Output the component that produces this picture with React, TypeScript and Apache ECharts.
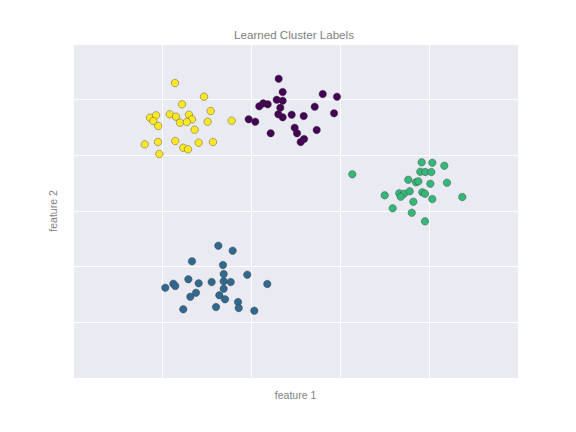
import React, { useEffect, useRef } from "react";
import * as echarts from "echarts";

const xTicks = [0, 1, 2, 3, 4, 5];
const yTicks = [0, 1, 2, 3, 4, 5, 6];

const cluster0: [number, number][] = [
  [2.311, 5.376], [2.356, 5.137], [2.806, 5.101], [2.966, 5.053], [2.289, 4.999],
  [2.356, 4.981], [2.138, 4.934], [2.188, 4.917], [2.093, 4.881], [2.329, 4.855],
  [2.716, 4.873], [2.307, 4.737], [2.356, 4.683], [2.457, 4.73], [2.592, 4.706],
  [2.933, 4.755], [1.974, 4.647], [2.048, 4.604], [2.491, 4.496], [2.517, 4.396],
  [2.738, 4.455], [2.221, 4.396], [2.596, 4.293], [2.558, 4.239],
];

const cluster1: [number, number][] = [
  [1.633, 2.377], [1.794, 2.287], [1.337, 2.096], [1.685, 2.03], [1.693, 1.868],
  [1.958, 1.856], [1.037, 1.622], [1.127, 1.694], [1.149, 1.653], [1.296, 1.773],
  [1.412, 1.701], [1.558, 1.724], [1.693, 1.737], [1.772, 1.724], [2.183, 1.689],
  [1.693, 1.604], [1.382, 1.532], [1.318, 1.46], [1.644, 1.486], [1.708, 1.414],
  [1.854, 1.365], [1.862, 1.257], [2.037, 1.209], [1.239, 1.234], [1.607, 1.275],
];

const cluster2: [number, number][] = [
  [3.918, 3.875], [4.037, 3.867], [4.172, 3.814], [3.138, 3.659], [3.902, 3.706],
  [3.958, 3.7], [4.026, 3.7], [3.767, 3.562], [3.854, 3.515], [3.88, 3.533],
  [4.015, 3.49], [4.202, 3.508], [3.502, 3.282], [3.666, 3.318], [3.719, 3.311],
  [3.682, 3.257], [3.783, 3.354], [3.925, 3.336], [3.955, 3.311], [4.374, 3.251],
  [4.037, 3.215], [3.824, 3.167], [3.592, 3.048], [3.806, 2.969], [3.955, 2.815],
];

const cluster3: [number, number][] = [
  [1.146, 5.299], [1.472, 5.053], [1.225, 4.917], [1.547, 4.796], [0.865, 4.676],
  [0.933, 4.719], [0.902, 4.616], [0.958, 4.527], [1.087, 4.737], [1.157, 4.694],
  [1.303, 4.73], [1.337, 4.647], [1.202, 4.586], [1.278, 4.599], [1.513, 4.604],
  [1.783, 4.622], [1.367, 4.46], [0.806, 4.198], [0.955, 4.239], [1.149, 4.257],
  [1.239, 4.137], [1.292, 4.108], [1.412, 4.227], [1.573, 4.239], [0.97, 4.024],
];

const clusters = [cluster0, cluster1, cluster2, cluster3];
const colors = ["#440154", "#31688e", "#35b779", "#fde725"];

export default function App() {
  const ref = useRef<HTMLDivElement>(null);
  useEffect(() => {
    document.body.style.margin = "0";
    if (!ref.current) return;
    const chart = echarts.init(ref.current, undefined, { renderer: "svg" });
    const font = "'Liberation Sans', Arial, sans-serif";
    const textColor = "#808080";
    chart.setOption({
      animation: false,
      backgroundColor: "#ffffff",
      grid: { left: 73, right: 58, top: 44, bottom: 54, show: true, backgroundColor: "#eaeaf2", borderWidth: 0 },
      graphic: [
        {
          type: "text",
          x: 294,
          y: 34,
          style: {
            text: "Learned Cluster Labels",
            fill: textColor,
            font: `11.6px ${font}`,
            textAlign: "center",
            textVerticalAlign: "middle",
          },
        },
      ],
      xAxis: {
        type: "value",
        min: xTicks[0],
        max: xTicks[xTicks.length - 1],
        interval: 1,
        name: "feature 1",
        nameLocation: "middle",
        nameGap: 11,
        nameTextStyle: { color: textColor, fontSize: 10.5, fontFamily: font },
        axisLine: { show: false },
        axisTick: { show: false },
        axisLabel: { show: false },
        splitLine: { show: true, lineStyle: { color: "#ffffff", width: 1 } },
      },
      yAxis: {
        type: "value",
        min: yTicks[0],
        max: yTicks[yTicks.length - 1],
        interval: 1,
        name: "feature 2",
        nameLocation: "middle",
        nameGap: 15,
        nameRotate: 90,
        nameTextStyle: { color: textColor, fontSize: 10.5, fontFamily: font },
        axisLine: { show: false },
        axisTick: { show: false },
        axisLabel: { show: false },
        splitLine: { show: true, lineStyle: { color: "#ffffff", width: 1 } },
      },
      series: clusters.map((data, i) => ({
        type: "scatter",
        data,
        symbolSize: 7.5,
        itemStyle: { color: colors[i], borderColor: "rgba(60,60,60,0.8)", borderWidth: 0.5, opacity: 1 },
      })),
    });
    return () => chart.dispose();
  }, []);
  return <div ref={ref} style={{ width: 576, height: 432 }} />;
}
